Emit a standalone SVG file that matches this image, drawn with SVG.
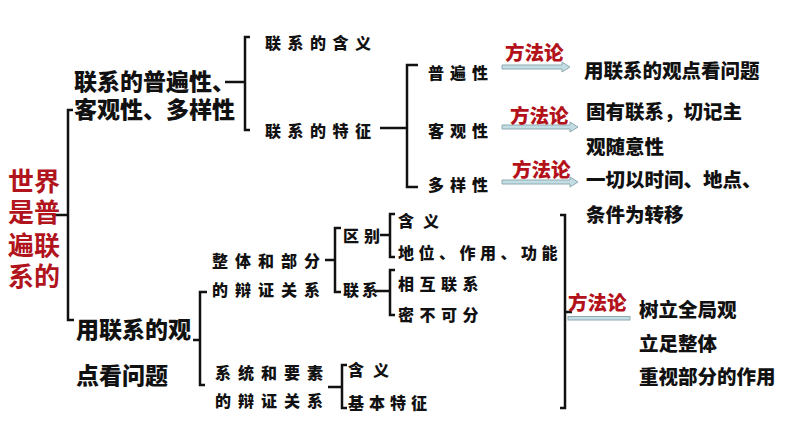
<svg xmlns="http://www.w3.org/2000/svg" width="794" height="447" viewBox="0 0 794 447">
<style>
text{font-family:"Noto Sans CJK SC","Noto Sans",sans-serif;font-weight:900;dominant-baseline:central;fill:#111}
.title{font-size:26px;fill:#b1141c;font-weight:700}
.big{font-size:23px;font-weight:900}
.mid{font-size:19.5px;font-weight:900}
.sm{font-size:16px}
.red{font-size:19.5px;fill:#b3121b;font-weight:900}
.br{fill:none;stroke:#111;stroke-width:2.5}
.arr{fill:#c3dde4;stroke:#8fa9b0;stroke-width:1}
</style>
<rect width="794" height="447" fill="#fff"/>
<g id="connectors">
<path class="br" d="M52,215 H68 M73,110 H68 V320 H74"/>
<path class="br" d="M225,82 H245 M250,37 H245 V130 H250"/>
<path class="br" d="M380,128 H407 M418,65 H407 V187 H418"/>
<path class="br" d="M193,340 H200 M207,292 H200 V385 H205"/>
<path class="br" d="M325,260 H335 M341,228 H335 V292 H341"/>
<path class="br" d="M380,235 H390 M395,214 H390 V257 H395"/>
<path class="br" d="M375,291 H390 M395,270 H390 V315 H395"/>
<path class="br" d="M328,387 H342 M347,365 H342 V408 H347"/>
<path class="br" d="M560,215 H565 V408 H560 M565,312 H572"/>
<polygon class="arr" points="502,65 562,65 562,62 570,67 562,72 562,69 502,69"/>
<polygon class="arr" points="502,125 570,125 570,122 578,127 570,132 570,129 502,129"/>
<polygon class="arr" points="502,180 570,180 570,177 578,182 570,187 570,184 502,184"/>
<rect class="arr" x="568" y="316.5" width="62" height="3.5"/>
</g>
<g id="root">
<text class="title" x="8" y="179">世界</text>
<text class="title" x="8" y="210">是普</text>
<text class="title" x="8" y="243">遍联</text>
<text class="title" x="8" y="274">系的</text>
</g>
<g id="n-universal">
<text class="big" x="74" y="80">联系的普遍性、</text>
<text class="big" x="74" y="108">客观性、多样性</text>
</g>
<g id="n-meaning"><text class="sm" x="265" y="42" letter-spacing="6.5">联系的含义</text></g>
<g id="n-feature"><text class="sm" x="265" y="130" letter-spacing="6.5">联系的特征</text></g>
<g id="n-pu"><text class="sm" x="428" y="72" font-size="17" letter-spacing="6">普遍性</text></g>
<g id="n-ke"><text class="sm" x="428" y="130" font-size="17" letter-spacing="6">客观性</text></g>
<g id="n-duo"><text class="sm" x="428" y="184" font-size="17" letter-spacing="6">多样性</text></g>
<g id="m1"><text class="red" x="505" y="51">方法论</text></g>
<g id="m2"><text class="red" x="510" y="114">方法论</text></g>
<g id="m3"><text class="red" x="512" y="168">方法论</text></g>
<g id="r1"><text class="mid" x="584" y="69">用联系的观点看问题</text></g>
<g id="r2">
<text class="mid" x="586" y="110">固有联系，切记主</text>
<text class="mid" x="586" y="145">观随意性</text>
</g>
<g id="r3">
<text class="mid" x="586" y="178">一切以时间、地点、</text>
<text class="mid" x="586" y="213">条件为转移</text>
</g>
<g id="n-use">
<text class="big" x="76" y="328">用联系的观</text>
<text class="big" x="76" y="374">点看问题</text>
</g>
<g id="n-whole">
<text class="sm" x="212" y="260" font-size="17" letter-spacing="7">整体和部分</text>
<text class="sm" x="212" y="289" font-size="17" letter-spacing="7">的辩证关系</text>
</g>
<g id="n-diff"><text class="sm" x="343" y="235" letter-spacing="5">区别</text></g>
<g id="n-link"><text class="sm" x="343" y="289" letter-spacing="3">联系</text></g>
<g id="n-hanyi1"><text class="sm" x="398" y="220" font-size="15" letter-spacing="9">含义</text></g>
<g id="n-role"><text class="sm" x="398" y="252" font-size="15" letter-spacing="4.5">地位、作用、功能</text></g>
<g id="n-mutual"><text class="sm" x="398" y="283" font-size="15" letter-spacing="5.5">相互联系</text></g>
<g id="n-insep"><text class="sm" x="398" y="314" font-size="15" letter-spacing="5.5">密不可分</text></g>
<g id="n-system">
<text class="sm" x="215" y="372" font-size="17" letter-spacing="7">系统和要素</text>
<text class="sm" x="215" y="400" font-size="17" letter-spacing="7">的辩证关系</text>
</g>
<g id="n-hanyi2"><text class="sm" x="348" y="369" font-size="15" letter-spacing="9">含义</text></g>
<g id="n-basic"><text class="sm" x="348" y="402" letter-spacing="5">基本特征</text></g>
<g id="m4"><text class="red" x="568" y="301">方法论</text></g>
<g id="r4">
<text class="mid" x="639" y="308">树立全局观</text>
<text class="mid" x="639" y="342">立足整体</text>
<text class="mid" x="639" y="375">重视部分的作用</text>
</g>
</svg>
